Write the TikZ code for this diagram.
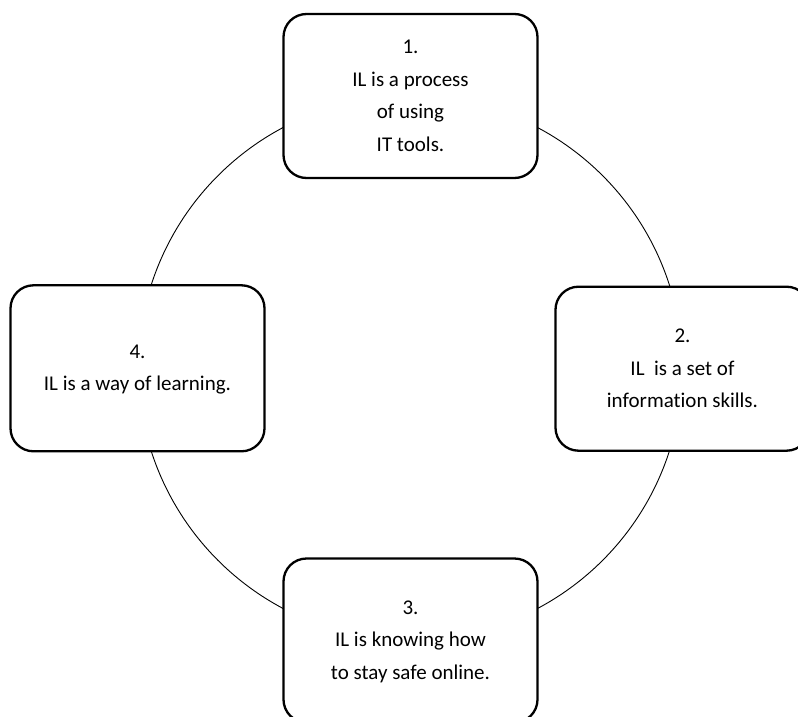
\documentclass[tikz,border=0pt]{standalone}
\usepackage{fontspec}
\setmainfont[Ligatures=NoCommon]{Carlito}
\begin{document}
\begin{tikzpicture}[x=1pt,y=-1pt,
  stagebox/.style={draw=black, line width=2.3pt, fill=white, rounded corners=23pt,
    minimum width=254pt, minimum height=164pt, inner sep=0pt, align=center,
    font={\fontsize{21}{32.4}\selectfont}},
  ring/.style={draw=black, line width=0.9pt}]
  \useasboundingbox (0,0) rectangle (798,717);
  \clip (0,0) rectangle (798,717);
  % the cycle behind the four stages
  \coordinate (hub) at (410.3,368);
  \draw[ring] (hub) circle (272);
  % the four stages
  \node[stagebox] (s1) at (410.5,96)
    {\strut 1.\\\strut IL is a process\\\strut of using\\\strut IT tools.};
  \node[stagebox] (s2) at (682.5,368.7)
    {\strut 2.\\\strut IL\ \ is a set of\\\strut information skills.};
  \node[stagebox] (s3) at (410.5,640.5)
    {\strut 3.\\\strut IL is knowing how\\\strut to stay safe online.};
  \node[stagebox, minimum height=166pt] (s4) at (137.5,368.3)
    {\strut 4.\\\strut IL is a way of learning.};
\end{tikzpicture}
\end{document}
